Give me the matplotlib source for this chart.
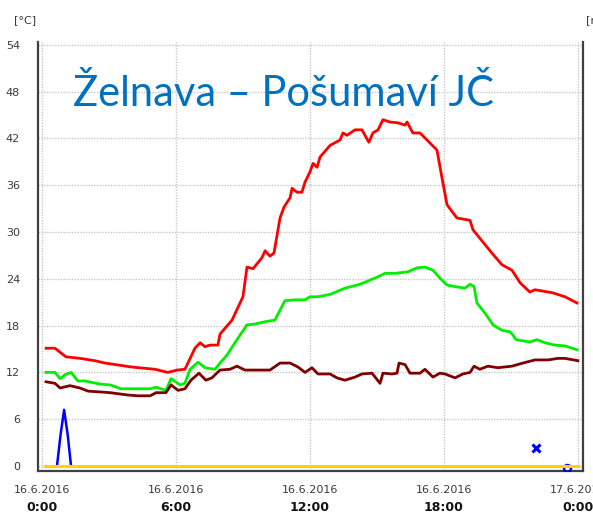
import matplotlib
matplotlib.use("Agg")
import matplotlib.pyplot as plt

# hours since 16.6.2016 0:00
red_h = [0.18, 0.58, 1.07, 1.70, 2.37, 2.82, 3.99, 5.06, 5.64, 6.05, 6.40, 6.85, 7.08, 7.30,
         7.52, 7.88, 7.97, 8.51, 9.00, 9.18, 9.45, 9.85, 9.99, 10.21, 10.39, 10.57, 10.66,
         10.84, 11.11, 11.20, 11.42, 11.64, 11.78, 12.00, 12.14, 12.32, 12.45, 12.90, 13.35,
         13.48, 13.66, 14.02, 14.33, 14.64, 14.82, 15.05, 15.27, 15.58, 15.94, 16.26, 16.35,
         16.61, 16.93, 17.38, 17.69, 17.91, 18.14, 18.58, 19.17, 19.30, 19.61, 20.15, 20.60,
         21.05, 21.41, 21.85, 22.08, 22.88, 23.42, 23.96]
red_v = [15.1, 15.1, 14.0, 13.8, 13.5, 13.2, 12.7, 12.4, 12.0, 12.3, 12.4, 15.1, 15.8, 15.3,
         15.5, 15.5, 16.9, 18.7, 21.7, 25.5, 25.3, 26.7, 27.6, 26.9, 27.3, 30.3, 31.8,
         33.2, 34.4, 35.6, 35.1, 35.1, 36.4, 37.7, 38.8, 38.3, 39.6, 41.1, 41.8,
         42.7, 42.4, 43.1, 43.1, 41.5, 42.7, 43.1, 44.4, 44.1, 44.0, 43.7, 44.1,
         42.7, 42.7, 41.4, 40.5, 37.0, 33.5, 31.8, 31.5, 30.3, 29.2, 27.3, 25.8,
         25.1, 23.5, 22.3, 22.6, 22.2, 21.7, 20.9]

green_h = [0.18, 0.58, 0.81, 1.03, 1.30, 1.61, 1.93, 2.60, 3.05, 3.54, 4.30, 4.84, 5.11, 5.55,
           5.78, 6.18, 6.40, 6.63, 6.99, 7.30, 7.75, 7.97, 8.28, 8.64, 9.18, 9.54, 9.99,
           10.43, 10.88, 11.33, 11.78, 12.00, 12.36, 12.90, 13.57, 14.24, 15.00, 15.36, 15.81,
           16.39, 16.79, 17.15, 17.51, 17.82, 18.14, 18.50, 18.94, 19.17, 19.35, 19.48, 19.84,
           20.20, 20.60, 20.96, 21.09, 21.23, 21.85, 22.17, 22.53, 22.97, 23.42, 23.96]
green_v = [12.0, 12.0, 11.2, 11.7, 12.0, 10.9, 10.9, 10.5, 10.4, 9.9, 9.9, 9.9, 10.1, 9.7,
           11.2, 10.4, 10.6, 12.4, 13.3, 12.6, 12.4, 13.2, 14.2, 15.8, 18.1, 18.2, 18.5,
           18.7, 21.2, 21.3, 21.3, 21.7, 21.7, 22.0, 22.8, 23.3, 24.2, 24.7, 24.7,
           24.9, 25.4, 25.5, 25.1, 24.1, 23.2, 23.0, 22.8, 23.3, 23.0, 20.9, 19.6,
           18.1, 17.4, 17.2, 16.8, 16.2, 15.9, 16.2, 15.8, 15.5, 15.4, 14.9]

dark_h = [0.18, 0.58, 0.81, 1.25, 1.70, 2.06, 2.60, 3.05, 3.85, 4.30, 4.84, 5.11, 5.55, 5.78,
          6.09, 6.40, 6.67, 7.03, 7.34, 7.61, 7.97, 8.42, 8.73, 9.09, 9.76, 10.21, 10.66,
          11.11, 11.46, 11.78, 12.09, 12.36, 12.90, 13.21, 13.57, 14.02, 14.33, 14.78, 15.14,
          15.27, 15.67, 15.90, 15.99, 16.26, 16.48, 16.93, 17.15, 17.51, 17.82, 18.05, 18.50,
          18.85, 19.17, 19.35, 19.61, 19.97, 20.42, 21.05, 21.54, 22.08, 22.66, 23.11, 23.42,
          24.00]
dark_v = [10.8, 10.6, 10.0, 10.3, 10.0, 9.6, 9.5, 9.4, 9.1, 9.0, 9.0, 9.4, 9.4, 10.4,
          9.7, 9.9, 11.0, 11.9, 11.0, 11.3, 12.3, 12.4, 12.8, 12.3, 12.3, 12.3, 13.2,
          13.2, 12.7, 12.0, 12.6, 11.8, 11.8, 11.3, 11.0, 11.4, 11.8, 11.9, 10.6,
          11.9, 11.8, 11.9, 13.2, 13.0, 11.9, 11.9, 12.4, 11.4, 11.9, 11.8, 11.3,
          11.8, 12.0, 12.8, 12.4, 12.8, 12.6, 12.8, 13.2, 13.6, 13.6, 13.8, 13.8,
          13.5]

rain_h = [0.67, 0.83, 0.99, 1.15, 1.30]
rain_v = [0.0, 4.0, 7.2, 4.0, 0.0]

zero_h = [0.15, 24.0]
zero_v = [0.0, 0.0]

cross_h, cross_v = [22.12], [2.3]
circ_h, circ_v = [23.5], [-0.2]

yticks = [0, 6, 12, 18, 24, 30, 36, 42, 48, 54]
xticks = [0, 6, 12, 18, 24]
date_labels = ["16.6.2016", "16.6.2016", "16.6.2016", "16.6.2016", "17.6.2016"]
time_labels = ["0:00", "6:00", "12:00", "18:00", "0:00"]

fig = plt.figure(figsize=(5.93, 5.14), dpi=100)
ax = fig.add_axes([38 / 593, 1 - 471 / 514, (583 - 38) / 593, (471 - 42) / 514])

ax.plot(red_h, red_v, color="#ff0000", lw=2.0, zorder=3)
ax.plot(green_h, green_v, color="#00ee00", lw=2.0, zorder=3)
ax.plot(dark_h, dark_v, color="#800000", lw=2.0, zorder=3)
ax.plot(rain_h, rain_v, color="#0000ff", lw=1.8, zorder=3)
ax.plot(circ_h, circ_v, "o", mfc="none", mec="#0000ff", mew=1.8, ms=5, zorder=3)
ax.plot(zero_h, zero_v, color="#ffd200", lw=2.2, zorder=4)
ax.plot(cross_h, cross_v, "x", color="#0000ff", mew=2.2, ms=6, zorder=4)

ax.set_xlim(-0.18, 24.23)
ax.set_ylim(-0.64, 54.36)
ax.set_yticks(yticks)
ax.set_xticks(xticks)
ax.set_xticklabels(date_labels)
ax.tick_params(axis="both", length=0, labelsize=8, colors="#3a3a3a")
ax.tick_params(axis="y", pad=13)
ax.tick_params(axis="x", pad=10)
ax.grid(True, color="#c8c8c8", ls=(0, (1, 1)), lw=1)

for x, t in zip(xticks, time_labels):
    ax.text(x, -0.084, t, transform=ax.get_xaxis_transform(), ha="center", va="center",
            fontsize=9, fontweight="bold", color="#111111", clip_on=False)

ax.spines["top"].set_visible(False)
for s in ["left", "bottom", "right"]:
    ax.spines[s].set_color("#404040")
    ax.spines[s].set_linewidth(1.6)

ax.text(0.45, 0.851, "Želnava – Pošumaví JČ", transform=ax.transAxes, ha="center",
        va="baseline", fontsize=30, color="#0070c0", family="Lato")

fig.text(25 / 593, 1 - 20 / 514, "[°C]", ha="center", va="center", fontsize=8, color="#3a3a3a")
fig.text(586 / 593, 1 - 20 / 514, "[mm]", ha="left", va="center", fontsize=8, color="#3a3a3a")

fig.savefig("out.png", dpi=100)
